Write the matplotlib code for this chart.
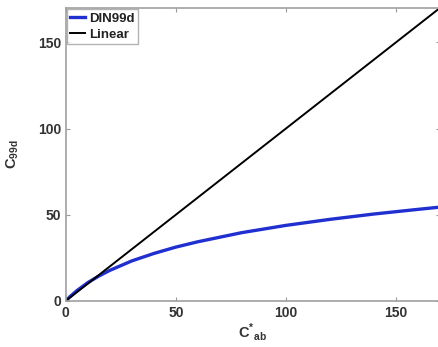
import matplotlib
matplotlib.use("Agg")
from matplotlib import pyplot as plt

plt.rcParams["font.family"] = "Liberation Sans"
plt.rcParams["font.weight"] = "bold"
plt.rcParams["mathtext.fontset"] = "custom"
plt.rcParams["mathtext.bf"] = "Liberation Sans:bold"
plt.rcParams["mathtext.rm"] = "Liberation Sans:bold"

# values
c_ab = [0, 2, 5, 10, 15, 20, 30, 40, 50, 60, 80, 100, 120, 140, 160, 170]
c_99d = [0, 2.6, 5.9, 10.6, 14.4, 17.7, 23.2, 27.5, 31.2, 34.3, 39.6, 43.8, 47.3, 50.4, 53.1, 54.4]
lin = [0, 170]

xticks = [0, 50, 100, 150]
yticks = [0, 50, 100, 150]

fig = plt.figure(figsize=(4.39, 3.47), dpi=100)
ax = fig.add_axes([0.150, 0.133, 0.852, 0.844])

ax.plot(c_ab, c_99d, color="#1f2fd0", lw=2.4, label="DIN99d")
ax.plot(lin, lin, color="black", lw=1.4, label="Linear")

ax.set_xlim(0, 170)
ax.set_ylim(0, 170)
ax.set_xticks(xticks)
ax.set_yticks(yticks)
ax.tick_params(direction="in", length=3, colors="#999999", labelcolor="#333333",
               labelsize=10, top=True, right=True)
for s in ax.spines.values():
    s.set_color("#a0a0a0")
    s.set_linewidth(1.2)

ax.set_xlabel("$\\mathbf{C}^{*}{}_{\\mathbf{ab}}$", fontsize=10.5, color="#333333", labelpad=1)
ax.set_ylabel("$\\mathbf{C}_{\\mathbf{99d}}$", fontsize=10.5, color="#333333", labelpad=12)

leg = ax.legend(loc="upper left", fontsize=9.5, handlelength=1.1, handletextpad=0.3,
                borderpad=0.25, labelspacing=0.3, borderaxespad=0.1, fancybox=False)
leg.get_frame().set_edgecolor("#a0a0a0")
leg.get_frame().set_linewidth(1.0)
for t in leg.get_texts():
    t.set_color("#222222")

fig.savefig("out.png", dpi=100)
